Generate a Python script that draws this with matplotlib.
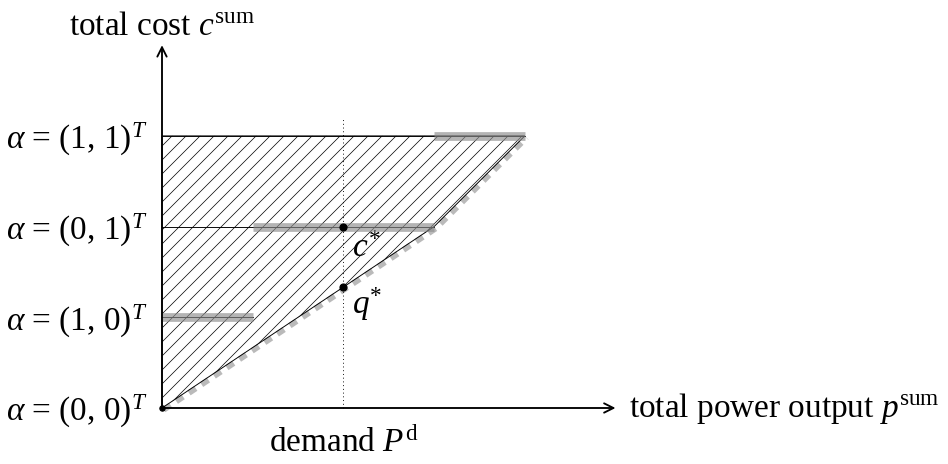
import numpy as np
import matplotlib
matplotlib.use("Agg")
import matplotlib.pyplot as plt
from matplotlib.patches import Polygon
from matplotlib import transforms

# cost levels of each commitment vector and the output range it can cover
alpha_labels = ["(0, 0)", "(1, 0)", "(0, 1)", "(1, 1)"]
cost_levels = [0, 1, 2, 3]
p_min = [0.0, 0.0, 1.0, 3.0]
p_max = [0.0, 1.0, 3.0, 4.0]

# lower convex envelope of the feasible (p, c) set
envelope_p = [0.0, 3.0, 4.0]
envelope_c = [0.0, 2.0, 3.0]

demand = 2.0
x_axis_end = 5.0
y_axis_end = 4.0

DPI = 84
plt.rcParams["font.family"] = "Liberation Serif"
plt.rcParams["mathtext.fontset"] = "custom"
plt.rcParams["mathtext.rm"] = "Liberation Serif"
plt.rcParams["mathtext.it"] = "Liberation Serif:italic"
plt.rcParams["hatch.linewidth"] = 0.6
FS = 28.5

fig = plt.figure(figsize=(948 / DPI, 464 / DPI), dpi=DPI)
ax = fig.add_axes([0, 0, 1, 1])
unit = 90.7
ax.set_xlim(-162 / unit, (948 - 162) / unit)
ax.set_ylim(-(464 - 408) / unit, 408 / unit)
ax.axis("off")
px = 1 / unit  # one pixel in data units

# hatched feasible region: left edge, top cost level, lower envelope
top = cost_levels[-1]
region = [(0, 0), (0, top)] + list(zip(envelope_p[::-1], envelope_c[::-1]))
ax.add_patch(Polygon(region, closed=True, facecolor="none", edgecolor="black",
                     hatch="//", linewidth=0.8, zorder=2))

# horizontal cost levels and the output range of each commitment
for lvl, lo, hi in zip(cost_levels[1:], p_min[1:], p_max[1:]):
    ax.plot([0, hi], [lvl, lvl], color="black", lw=0.8, zorder=3)
    ax.plot([lo, hi], [lvl, lvl], color="#8c8c8c", alpha=0.65, lw=7.5,
            solid_capstyle="butt", zorder=4)

# dashed envelope, nudged slightly below-right of the outline
shift = transforms.offset_copy(ax.transData, fig=fig, x=1.5, y=-1.5, units="points")
ax.plot(envelope_p, envelope_c, color="#bababa", lw=5, dashes=(1.4, 1.2),
        transform=shift, zorder=1)

# demand line and optimal points
ax.plot([demand, demand], [0, 3.2], color="black", lw=0.8, ls=(0, (1, 3)), zorder=3)
c_star = cost_levels[2]
q_star = np.interp(demand, envelope_p, envelope_c)
ax.plot([demand, demand], [c_star, q_star], "o", color="black", ms=6, zorder=6)
ax.plot([0], [0], "o", color="black", ms=4.5, zorder=6)
ax.text(demand + 9 * px, c_star - 30 * px, r"$c^{*}$", fontsize=FS,
        va="baseline", ha="left")
ax.text(demand + 9 * px, q_star - 27 * px, r"$q^{*}$", fontsize=FS,
        va="baseline", ha="left")

# axes with arrows
arrow = dict(arrowstyle="->", lw=1.6, color="black", shrinkA=0, shrinkB=0,
             mutation_scale=20)
ax.annotate("", xy=(x_axis_end, 0), xytext=(0, 0), arrowprops=arrow, zorder=5)
ax.annotate("", xy=(0, y_axis_end), xytext=(0, 0), arrowprops=arrow, zorder=5)

for lvl, lab in zip(cost_levels, alpha_labels):
    ax.text(-15 * px, lvl - 13 * px, r"$\alpha$ = " + lab + r"$^{T}$", fontsize=FS,
            ha="right", va="baseline")

ax.text(x_axis_end + 13 * px, -9 * px, r"total power output $p^{\mathrm{sum}}$",
        fontsize=FS, ha="left", va="baseline")
ax.text(0, (408 - 35) * px, r"total cost $c^{\mathrm{sum}}$",
        fontsize=FS, ha="center", va="baseline")
ax.text(demand, -44 * px, r"demand $P^{\mathrm{d}}$", fontsize=FS,
        ha="center", va="baseline")

fig.savefig("out.png", dpi=DPI)
